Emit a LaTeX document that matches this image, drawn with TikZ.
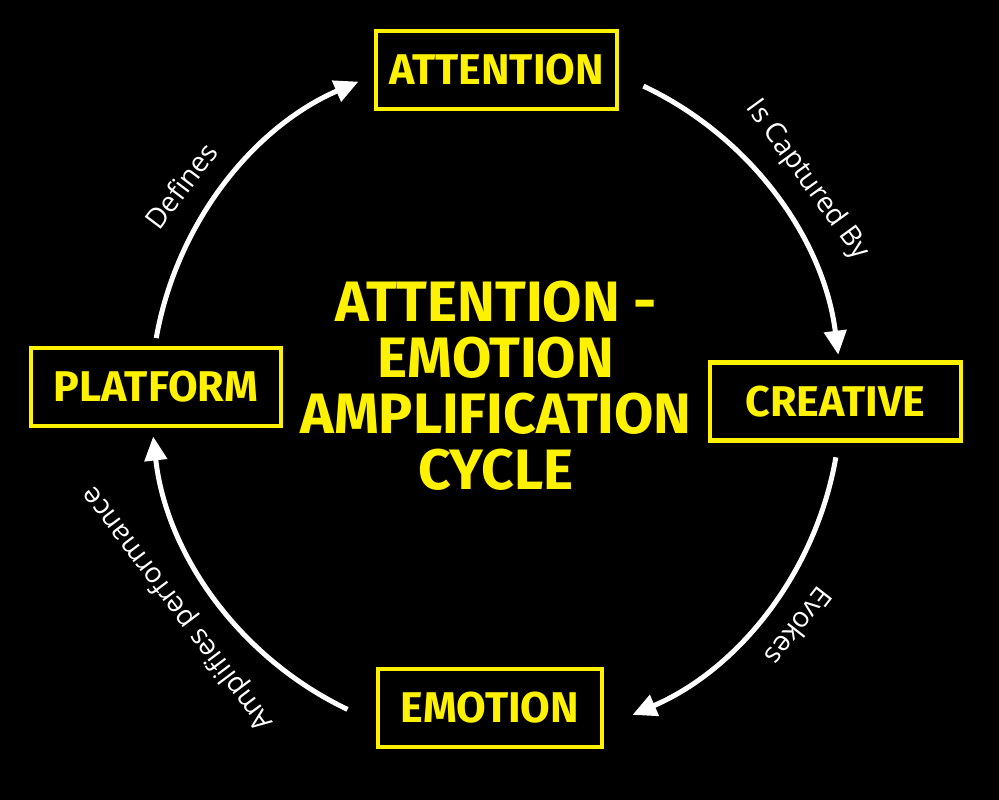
\documentclass[tikz,border=0pt]{standalone}
\usepackage{fontspec}
\setmainfont{Open Sans}
\newfontfamily\boxfont{Fira Sans}[UprightFont=* Bold]
\usetikzlibrary{arrows.meta,calc}
\definecolor{yel}{RGB}{255,242,0}
\begin{document}
\begin{tikzpicture}[x=1pt,y=-1pt,
  stagebox/.style={draw=yel,line width=4.5pt,text=yel,minimum height=78pt,
    font=\boxfont\fontsize{43}{48}\selectfont,inner sep=0pt,anchor=center},
  cyc/.style={draw=white,line width=5pt,-{Triangle[length=24pt,width=22pt]}},
  lbl/.style={text=white,font=\fontsize{28}{32}\selectfont,inner sep=0pt}]
\fill[black] (0,0) rectangle (999,800);
\useasboundingbox (0,0) rectangle (999,800);
\coordinate (c) at (496,398);
\node[stagebox,minimum width=241pt] (att) at (496.5,70) {ATTENTION};
\node[stagebox,minimum width=251pt] (cre) at (835.5,401.5) {CREATIVE};
\node[stagebox,minimum width=224pt] (emo) at (490,708) {EMOTION};
\node[stagebox,minimum width=250pt] (pla) at (156,387) {PLATFORM};
\node[text=yel,align=center,font=\boxfont\fontsize{57}{56}\selectfont] (title) at (496,386)
  {ATTENTION -\\EMOTION\\AMPLIFICATION\\CYCLE};
\coordinate (s1) at ($(c)+(170:345pt)$);
\coordinate (s2) at ($(c)+(64.7:345pt)$);
\coordinate (s3) at ($(c)+(-9.9:345pt)$);
\coordinate (s4) at ($(c)+(-115.5:345pt)$);
\draw[cyc] (s1) arc[start angle=170,end angle=113.5,radius=345pt];
\draw[cyc] (s2) arc[start angle=64.7,end angle=7.2,radius=345pt];
\draw[cyc] (s3) arc[start angle=-9.9,end angle=-66.7,radius=345pt];
\draw[cyc] (s4) arc[start angle=-115.5,end angle=-173.6,radius=345pt];
\node[lbl,rotate=53] (l1) at ($(c)+(146:380pt)$) {Defines};
\node[lbl,rotate=-54] (l2) at ($(c)+(35:380pt)$) {Is Captured By};
\node[lbl,rotate=-128] (l3) at ($(c)+(-37:380pt)$) {Evokes};
\node[lbl,rotate=127] (l4) at ($(c)+(213.5:381pt)$) {Amplifies performance};
\end{tikzpicture}
\end{document}
